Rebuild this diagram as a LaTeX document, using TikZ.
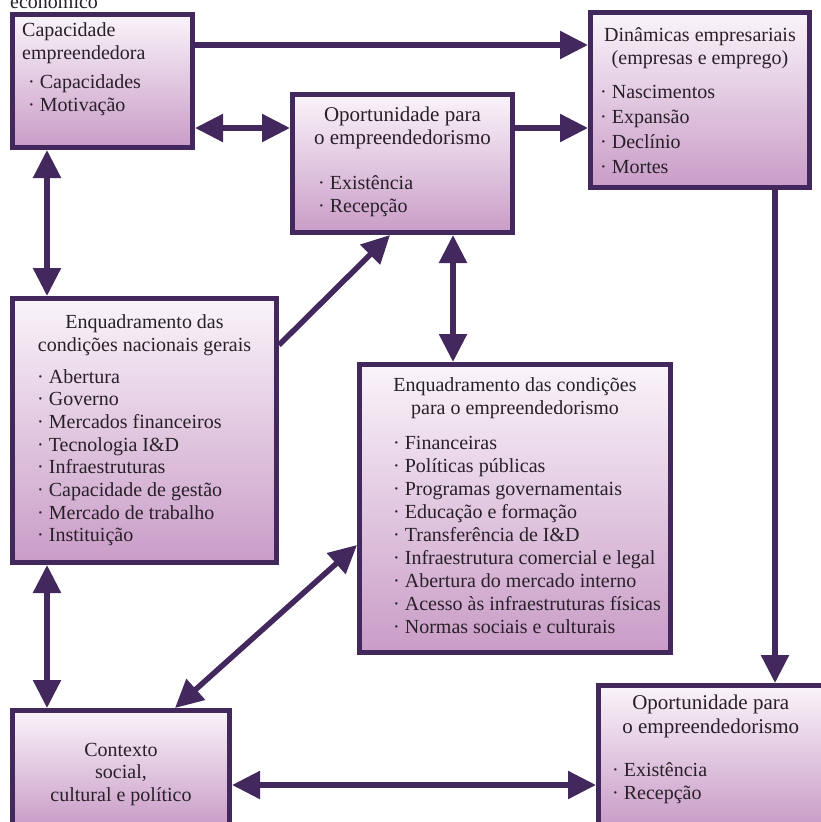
\documentclass[tikz,border=0pt]{standalone}
\usepackage{fontspec}
\setmainfont{Liberation Serif}
\usepackage{xcolor}
\usepackage{tikz}
\usetikzlibrary{positioning, arrows.meta}

\definecolor{roxo}{RGB}{66,40,92}
\definecolor{lilasclaro}{RGB}{250,244,250}
\definecolor{lilas}{RGB}{201,156,199}
\definecolor{texto}{RGB}{40,32,40}

\begin{document}
\begin{tikzpicture}[x=1pt, y=-1pt,
		bloco/.style={draw=roxo, line width=5pt, top color=lilasclaro, bottom color=lilas, inner sep=0pt},
		txt/.style={inner sep=0pt, text=texto, font=\fontsize{20}{23.5}\selectfont},
		titulo/.style={txt, align=center},
		lista/.style={txt, align=left},
		seta/.style={draw=roxo, line width=5.5pt, -{Triangle[length=28pt,width=27pt]}},
		setadupla/.style={seta, {Triangle[length=28pt,width=27pt]}-{Triangle[length=28pt,width=27pt]}}]
		\useasboundingbox (0,0) rectangle (820,822);
		
		% Label cut at the top
		\node[txt, anchor=base west] (eco) at (10,8) {económico};
		
		% Boxes
		\node[bloco, minimum width=180pt, minimum height=133pt] (cap) at (102.5,81) {};
		\node[bloco, minimum width=220pt, minimum height=138pt] (opo) at (402.5,163.5) {};
		\node[bloco, minimum width=219pt, minimum height=175pt] (din) at (700,100) {};
		\node[bloco, minimum width=264pt, minimum height=264pt] (ncg) at (144.5,430.5) {};
		\node[bloco, minimum width=311pt, minimum height=288pt] (epe) at (515,508.5) {};
		\node[bloco, minimum width=217pt, minimum height=115.5pt] (ctx) at (121,768.25) {};
		\node[bloco, minimum width=224.5pt, minimum height=140.5pt] (opf) at (710.75,755.75) {};
		
		% Texts
		\node[lista, below right=10pt and 12pt of cap.north west] (cap-tit) {Capacidade\\empreendedora};
		\node[lista, below right=62pt and 18pt of cap.north west] (cap-lst) {· Capacidades\\· Motivação};
		
		\node[titulo, below=15pt of opo.north, font=\fontsize{21}{23}\selectfont] (opo-tit) {Oportunidade para\\o empreendedorismo};
		\node[lista, below right=83pt and 28pt of opo.north west] (opo-lst) {· Existência\\· Recepção};
		
		\node[titulo, below=17pt of din.north] (din-tit) {Dinâmicas empresariais\\(empresas e emprego)};
		\node[lista, below right=75pt and 12pt of din.north west, font=\fontsize{20}{25}\selectfont] (din-lst)
			{· Nascimentos\\· Expansão\\· Declínio\\· Mortes};
		
		\node[titulo, below=18pt of ncg.north] (ncg-tit) {Enquadramento das\\condições nacionais gerais};
		\node[lista, below right=73pt and 27pt of ncg.north west, font=\fontsize{20}{22.7}\selectfont] (ncg-lst)
			{· Abertura\\· Governo\\· Mercados financeiros\\· Tecnologia I\&D\\· Infraestruturas\\%
			 · Capacidade de gestão\\· Mercado de trabalho\\· Instituição};
		
		\node[titulo, below=15pt of epe.north] (epe-tit) {Enquadramento das condições\\para o empreendedorismo};
		\node[lista, below right=74pt and 36pt of epe.north west, font=\fontsize{20}{23}\selectfont] (epe-lst)
			{· Financeiras\\· Políticas públicas\\· Programas governamentais\\· Educação e formação\\%
			 · Transferência de I\&D\\· Infraestrutura comercial e legal\\· Abertura do mercado interno\\%
			 · Acesso às infraestruturas físicas\\· Normas sociais e culturais};
		
		\node[titulo, below=35pt of ctx.north, font=\fontsize{20}{22.5}\selectfont] (ctx-tit) {Contexto\\social,\\cultural e político};
		
		\node[titulo, below=12pt of opf.north, font=\fontsize{21}{23.5}\selectfont] (opf-tit) {Oportunidade para\\o empreendedorismo};
		\node[lista, below right=79pt and 16pt of opf.north west] (opf-lst) {· Existência\\· Recepção};
		
		% Edges
		\draw[seta] ([yshift=-33pt]cap.north east) -- ([yshift=-35pt]din.north west);
		\draw[setadupla] ([yshift=-116pt]cap.north east) -- ([yshift=-36pt]opo.north west);
		\draw[seta] ([yshift=-36pt]opo.north east) -- ([yshift=-118pt]din.north west);
		\draw[setadupla] ([xshift=37pt]cap.south west) -- ([xshift=37pt]ncg.north west);
		\draw[seta] ([yshift=-49pt]ncg.north east) -- ([xshift=100pt]opo.south west);
		\draw[setadupla] ([xshift=163pt]opo.south west) -- ([xshift=96pt]epe.north west);
		\draw[seta] ([xshift=187pt]din.south west) -- ([xshift=179pt]opf.north west);
		\draw[setadupla] ([xshift=37pt]ncg.south west) -- ([xshift=37pt]ctx.north west);
		\draw[setadupla] ([yshift=-183pt]epe.north west) -- ([xshift=165pt]ctx.north west);
		\draw[setadupla] ([yshift=-77pt]ctx.north east) -- ([yshift=-102pt]opf.north west);
	\end{tikzpicture}
\end{document}
